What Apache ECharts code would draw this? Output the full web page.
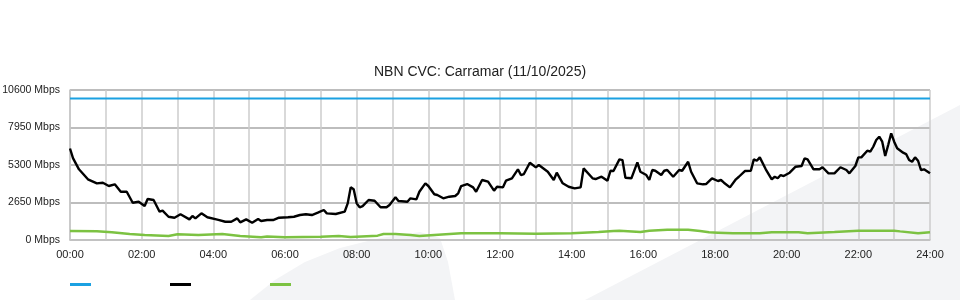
<!DOCTYPE html>
<html>
<head>
<meta charset="utf-8">
<script src="https://cdn.jsdelivr.net/npm/echarts@6/dist/echarts.min.js"></script>
<style>html,body{margin:0;padding:0;background:#fff}#c{width:960px;height:300px}</style>
</head>
<body>
<div id="c"></div>
<script>
const titleText = 'NBN CVC: Carramar (11/10/2025)';
const seriesNames = ['Capacity', 'Inbound', 'Outbound'];
const yTicks = [0, 2650, 5300, 7950, 10600];

const capacityTimes = ['00:00', '24:00'];
const capacityValues = [10000, 10000];

const inTimes = ['00:00','00:05','00:15','00:30','00:45','00:55','01:05','01:15','01:25','01:35','01:45','01:55','02:05','02:10','02:20','02:30','02:35','02:45','02:55','03:05','03:20','03:25','03:30','03:40','03:50','04:05','04:10','04:20','04:30','04:40','04:45','04:55','05:05','05:15','05:20','05:30','05:40','05:50','06:05','06:15','06:25','06:35','06:45','06:55','07:05','07:10','07:25','07:40','07:45','07:50','07:55','08:00','08:05','08:10','08:20','08:30','08:40','08:50','08:55','09:05','09:10','09:25','09:30','09:40','09:45','09:55','10:00','10:10','10:15','10:25','10:35','10:45','10:50','10:55','11:05','11:15','11:20','11:30','11:40','11:50','11:55','12:05','12:10','12:20','12:30','12:35','12:40','12:50','13:00','13:05','13:20','13:30','13:35','13:45','13:55','14:05','14:15','14:20','14:35','14:40','14:50','15:00','15:05','15:10','15:20','15:25','15:30','15:40','15:50','15:55','16:05','16:10','16:15','16:20','16:30','16:35','16:40','16:50','17:00','17:05','17:15','17:20','17:30','17:40','17:45','17:55','18:05','18:10','18:15','18:25','18:35','18:40','18:50','19:00','19:05','19:10','19:15','19:25','19:35','19:40','19:45','19:50','19:55','20:05','20:15','20:25','20:30','20:35','20:45','20:55','21:00','21:10','21:20','21:30','21:40','21:45','21:55','22:00','22:05','22:15','22:20','22:25','22:30','22:35','22:40','22:45','22:50','22:55','23:00','23:05','23:15','23:20','23:25','23:30','23:35','23:40','23:45','23:50','24:00'];
const inValues = [6465,5790,4995,4290,4005,4050,3815,3935,3410,3410,2635,2705,2400,2895,2825,2000,2070,1645,1575,1815,1460,1695,1530,1885,1605,1460,1410,1290,1290,1530,1250,1460,1220,1485,1340,1410,1410,1575,1605,1645,1765,1815,1765,1930,2120,1885,1835,2000,2590,3720,3580,2590,2310,2400,2825,2775,2310,2310,2470,3015,2755,2705,2945,2875,3410,4005,3815,3230,3180,2945,3060,3110,3300,3815,3955,3720,3410,4240,4120,3485,3765,3720,4190,4360,4995,4590,4660,5460,5135,5300,4825,4240,4755,4005,3765,3650,3720,5065,4360,4310,4470,4190,4895,4875,5700,5650,4400,4360,5490,4825,4590,4240,4945,4895,4590,4895,4945,4470,4945,4895,5530,4825,4005,3935,3955,4360,4170,4240,4050,3720,4290,4470,4875,4895,5700,5600,5840,4995,4290,4470,4360,4590,4520,4755,5180,5230,5770,5700,4995,4995,5140,4710,4710,5140,4945,4710,5230,5840,5840,6310,6240,6590,7065,7300,6945,5935,6710,7540,6945,6480,6170,6075,5650,5530,5840,5600,4945,4995,4710];

const outTimes = ['00:00','00:45','01:10','01:40','02:05','02:45','03:00','03:35','04:15','04:45','05:20','05:30','06:00','07:00','07:30','07:50','08:35','08:45','09:05','09:30','09:45','10:10','10:55','11:30','12:00','13:00','14:00','14:45','15:10','15:20','15:55','16:10','16:40','17:15','17:35','17:50','18:05','18:30','19:15','19:35','20:20','20:35','21:20','22:00','23:00','23:10','23:40','24:00'];
const outValues = [640,620,545,424,353,290,400,353,424,283,190,240,190,235,283,212,306,424,424,353,283,353,470,470,470,440,470,565,636,660,565,660,730,730,636,545,520,470,470,545,545,470,565,660,660,610,470,545];

function toMin(s) { const p = s.split(':'); return (+p[0]) * 60 + (+p[1]); }
function pairs(t, v) { return t.map((s, i) => [toMin(s), v[i]]); }
function fmtTime(m) { const h = Math.floor(m / 60); return (h < 10 ? '0' : '') + h + ':00'; }

const chart = echarts.init(document.getElementById('c'), null, { renderer: 'canvas' });
const font = 'Liberation Sans, Arial, sans-serif';
chart.setOption({
  animation: false,
  backgroundColor: '#ffffff',
  textStyle: { fontFamily: font },
  title: {
    text: titleText, left: 'center', top: 60,
    textStyle: { fontSize: 14, fontWeight: 'normal', color: '#222', fontFamily: font }
  },
  legend: {
    left: 70, top: 283, padding: 0, itemWidth: 21, itemHeight: 3, itemGap: 79, icon: 'rect',
    formatter: () => '', selectedMode: false,
    data: seriesNames
  },
  graphic: [
    { type: 'polygon', z: -100, silent: true,
      shape: { points: [[250,300],[275,280],[305,262],[340,248],[380,238],[420,232],[440,238],[448,262],[455,300]] },
      style: { fill: '#f3f4f6' } },
    { type: 'polygon', z: -100, silent: true,
      shape: { points: [[585,300],[960,105],[960,300]] },
      style: { fill: '#f3f4f6' } }
  ],
  grid: { left: 70, right: 30, top: 90, bottom: 60, containLabel: false, outerBoundsMode: 'none' },
  xAxis: {
    type: 'value', min: 0, max: 1440, interval: 60,
    axisLine: { show: true, lineStyle: { color: '#c4c4c4', width: 1.5 } },
    axisTick: { show: false },
    splitLine: { show: true, lineStyle: { color: '#cccccc', width: 1.5 } },
    axisLabel: {
      margin: 9, fontSize: 11, color: '#222', fontFamily: font, hideOverlap: false,
      formatter: v => (v % 120 === 0 ? fmtTime(v) : '')
    }
  },
  yAxis: {
    type: 'value', min: yTicks[0], max: yTicks[yTicks.length - 1], interval: yTicks[1] - yTicks[0],
    axisLine: { show: true, lineStyle: { color: '#c4c4c4', width: 1.5 } },
    axisTick: { show: false },
    splitLine: { show: true, lineStyle: { color: '#bdbdbd', width: 2 } },
    axisLabel: {
      margin: 10, fontSize: 10.5, color: '#222', fontFamily: font, verticalAlign: 'middle', padding: [0, 0, 4, 0],
      formatter: v => v + ' Mbps'
    }
  },
  series: [
    { name: seriesNames[0], type: 'line', showSymbol: false, data: pairs(capacityTimes, capacityValues),
      lineStyle: { color: '#1ba1e2', width: 2 }, itemStyle: { color: '#1ba1e2' } },
    { name: seriesNames[1], type: 'line', showSymbol: false, data: pairs(inTimes, inValues),
      lineStyle: { color: '#000000', width: 2.4 }, itemStyle: { color: '#000000' } },
    { name: seriesNames[2], type: 'line', showSymbol: false, data: pairs(outTimes, outValues),
      lineStyle: { color: '#7cc242', width: 2.5 }, itemStyle: { color: '#7cc242' } }
  ]
});
</script>
</body>
</html>
